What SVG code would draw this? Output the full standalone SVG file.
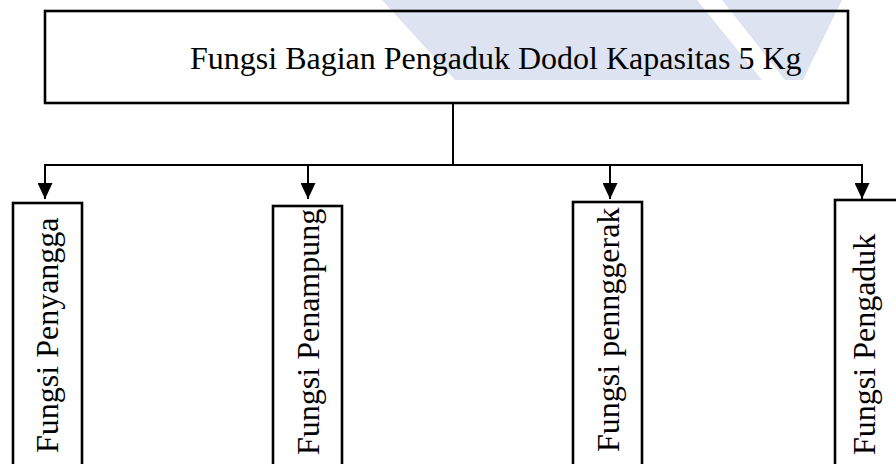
<svg xmlns="http://www.w3.org/2000/svg" width="896" height="464" viewBox="0 0 896 464">
  <style>
    .box { fill: none; stroke: #000; stroke-width: 2.6; }
    .conn { stroke: #000; stroke-width: 2; fill: none; }
    .lbl { font-family: "Liberation Serif", "Times New Roman", serif; font-size: 32px; fill: #000; }
    .wm { fill: #dde3f0; }
  </style>
  <defs>
    <marker id="arr" markerUnits="userSpaceOnUse" markerWidth="17" markerHeight="15" refX="16" refY="7.5" orient="auto" viewBox="0 0 17 15">
      <path d="M0,0 L16,7.5 L0,15 z" fill="#000"/>
    </marker>
  </defs>
  <rect width="896" height="464" fill="#fff"/>
  <g id="watermark">
    <polygon class="wm" points="382,0 697,0 762,80 455,80"/>
    <polygon class="wm" points="722,0 842,0 803,80 785,80"/>
  </g>
  <g id="connectors">
    <line class="conn" x1="453" y1="103" x2="453" y2="165"/>
    <line class="conn" x1="45" y1="165" x2="862" y2="165"/>
    <line class="conn" x1="45" y1="164" x2="45" y2="199" marker-end="url(#arr)"/>
    <line class="conn" x1="308" y1="164" x2="308" y2="199" marker-end="url(#arr)"/>
    <line class="conn" x1="610" y1="164" x2="610" y2="199" marker-end="url(#arr)"/>
    <line class="conn" x1="862" y1="164" x2="862" y2="199" marker-end="url(#arr)"/>
  </g>
  <g id="root">
    <rect class="box" x="45" y="11" width="803" height="92" stroke-width="3"/>
    <text class="lbl" x="190" y="69" font-size="31.5">Fungsi Bagian Pengaduk Dodol Kapasitas 5 Kg</text>
  </g>
  <g id="n1">
    <rect class="box" x="13" y="203" width="69" height="300"/>
    <text class="lbl" transform="translate(58,453) rotate(-90)">Fungsi Penyangga</text>
  </g>
  <g id="n2">
    <rect class="box" x="273" y="206" width="69" height="300"/>
    <text class="lbl" transform="translate(319,455) rotate(-90)">Fungsi Penampung</text>
  </g>
  <g id="n3">
    <rect class="box" x="573" y="202" width="69" height="300"/>
    <text class="lbl" transform="translate(619,452) rotate(-90)">Fungsi pennggerak</text>
  </g>
  <g id="n4">
    <rect class="box" x="835" y="200" width="80" height="300"/>
    <text class="lbl" transform="translate(875,455) rotate(-90)">Fungsi Pengaduk</text>
  </g>
</svg>
